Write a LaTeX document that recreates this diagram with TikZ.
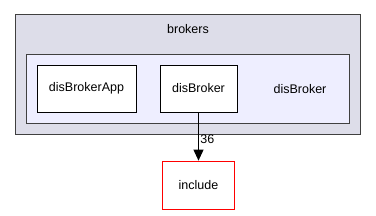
\documentclass[tikz,border=0pt]{standalone}
\usepackage{fontspec}
\setmainfont{Liberation Sans}
\usepackage{xcolor}
\usetikzlibrary{arrows.meta, positioning}

\begin{document}
\begin{tikzpicture}[
    x=1pt, y=-1pt,
    cluster/.style={rectangle, draw=black!75, line width=0.9pt, inner sep=0pt},
    dirnode/.style={rectangle, draw=black, line width=0.7pt, fill=white, minimum height=47pt, font=\fontsize{12.5}{15}\selectfont},
    lbl/.style={font=\fontsize{12.5}{15}\selectfont, inner sep=1pt},
    arr/.style={-{Triangle[length=11pt, width=10pt]}, line width=0.7pt}
]
\useasboundingbox (0,0) rectangle (376,215);
\node[cluster, fill={rgb,255:red,221;green,221;blue,233}, minimum width=345pt, minimum height=120pt] (brokers) at (187.5,74.5) {};
\node[lbl] (brokerslbl) at (188,29) {brokers};
\node[cluster, fill={rgb,255:red,238;green,238;blue,255}, minimum width=323pt, minimum height=69pt] (disbrokerdir) at (187.5,88.5) {};
\node[lbl] (disbrokerlbl) at (300,89) {disBroker};
\node[dirnode, minimum width=99pt] (app) at (86.5,88.5) {disBrokerApp};
\node[dirnode, minimum width=77pt] (broker) at (198.5,88.5) {disBroker};
\node[dirnode, draw=red, minimum width=72pt, minimum height=48pt] (include) at (198.5,185) {include};

\draw[arr] (broker) -- node[lbl, right, pos=0.55, inner sep=1.5pt] {36} (include);
\end{tikzpicture}
\end{document}
